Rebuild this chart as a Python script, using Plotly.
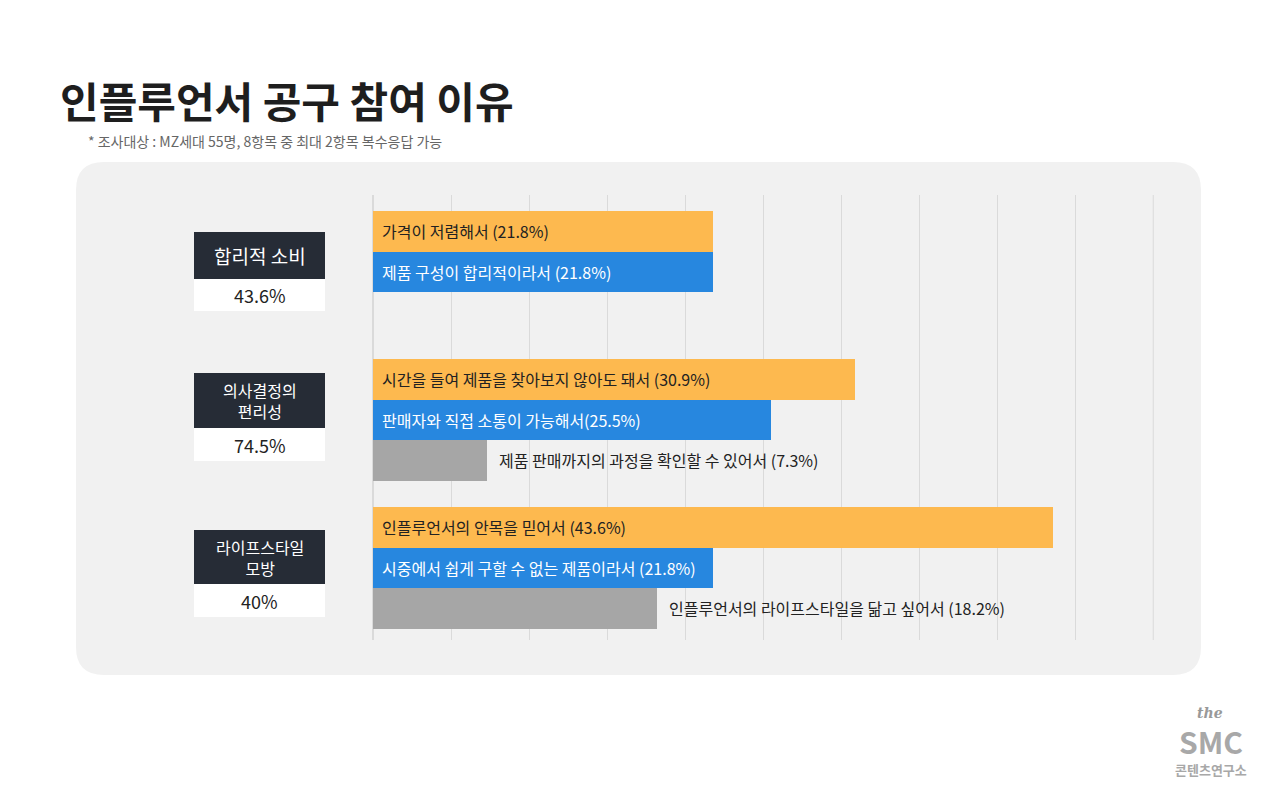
import plotly.graph_objects as go

# 인플루언서 공구 참여 이유 (MZ세대 55명, 복수응답)
groups = ["합리적 소비", "의사결정의<br>편리성", "라이프스타일<br>모방"]
group_totals = ["43.6%", "74.5%", "40%"]
reasons = [
    ["가격이 저렴해서 (21.8%)", "제품 구성이 합리적이라서 (21.8%)"],
    ["시간을 들여 제품을 찾아보지 않아도 돼서 (30.9%)", "판매자와 직접 소통이 가능해서(25.5%)",
     "제품 판매까지의 과정을 확인할 수 있어서 (7.3%)"],
    ["인플루언서의 안목을 믿어서 (43.6%)", "시중에서 쉽게 구할 수 없는 제품이라서 (21.8%)",
     "인플루언서의 라이프스타일을 닮고 싶어서 (18.2%)"],
]
values = [[21.8, 21.8], [30.9, 25.5, 7.3], [43.6, 21.8, 18.2]]
colors = ["#FDB94F", "#2787DF", "#A6A6A6"]

W, H = 1280, 793
OFF = 8  # page margin of the html body
def py(p):  # pixel -> paper y
    return 1 - (p - OFF) / H
def px(p):
    return (p - OFF) / W

group_top = [211, 359, 507]
bar_h = 40.5

fig = go.Figure()
annotations = []
for g, (labels, vals) in enumerate(zip(reasons, values)):
    ys = [group_top[g] + bar_h * (i + 0.5) for i in range(len(vals))]
    fig.add_trace(go.Bar(
        x=vals, y=ys, orientation="h", width=bar_h,
        marker=dict(color=colors[:len(vals)], line=dict(width=0)),
        hoverinfo="skip", showlegend=False,
    ))
    for i, (lab, v) in enumerate(zip(labels, vals)):
        if i == 2:
            annotations.append(dict(x=v, y=ys[i], text=lab, xref="x", yref="y", showarrow=False,
                                    xanchor="left", yanchor="middle", xshift=10,
                                    font=dict(size=16, color="#222")))
        else:
            annotations.append(dict(x=0, y=ys[i], text=lab, xref="x", yref="y", showarrow=False,
                                    xanchor="left", yanchor="middle", xshift=7,
                                    font=dict(size=16, color="#222" if i == 0 else "white")))

# rounded background panel
x0, x1, y0, y1, r = px(76), px(1201), py(675), py(162), 28
rx, ry = r / W, r / H
panel = (f"M {x0+rx},{y0} L {x1-rx},{y0} Q {x1},{y0} {x1},{y0+ry} L {x1},{y1-ry} Q {x1},{y1} {x1-rx},{y1} "
         f"L {x0+rx},{y1} Q {x0},{y1} {x0},{y1-ry} L {x0},{y0+ry} Q {x0},{y0} {x0+rx},{y0} Z")
shapes = [dict(type="path", xref="paper", yref="paper", path=panel,
               fillcolor="#F1F1F1", line=dict(width=0), layer="below"),
          # closing gridline at 50%
          dict(type="line", xref="x", yref="paper", x0=50, x1=50, y0=py(640), y1=py(195),
               line=dict(color="#DADADA", width=1), layer="below")]
boxes = [(232, 279, 311), (373, 428, 461), (530, 584, 617)]
for g, (t, m, b) in enumerate(boxes):
    shapes.append(dict(type="rect", xref="paper", yref="paper", x0=px(194), x1=px(325), y0=py(m), y1=py(t),
                       fillcolor="#262C36", line=dict(width=0)))
    shapes.append(dict(type="rect", xref="paper", yref="paper", x0=px(194), x1=px(325), y0=py(b), y1=py(m),
                       fillcolor="white", line=dict(width=0)))
    annotations.append(dict(x=px(259.5), y=py((t + m) / 2), xref="paper", yref="paper", text=groups[g],
                            showarrow=False, xanchor="center", yanchor="middle",
                            font=dict(size=19 if g == 0 else 16, color="white")))
    annotations.append(dict(x=px(259.5), y=py((m + b) / 2), xref="paper", yref="paper", text=group_totals[g],
                            showarrow=False, xanchor="center", yanchor="middle",
                            font=dict(size=18, color="#222")))

annotations += [
    dict(x=px(58), y=py(100), xref="paper", yref="paper", text="<b>인플루언서 공구 참여 이유</b>",
         showarrow=False, xanchor="left", yanchor="middle", font=dict(size=42, color="#1E1E1E")),
    dict(x=px(86), y=py(141), xref="paper", yref="paper",
         text="* 조사대상 : MZ세대 55명, 8항목 중 최대 2항목 복수응답 가능",
         showarrow=False, xanchor="left", yanchor="middle", font=dict(size=14, color="#666")),
    dict(x=px(1210), y=py(713), xref="paper", yref="paper", text="<i><b>the</b></i>",
         showarrow=False, xanchor="center", yanchor="middle",
         font=dict(size=14, color="#999", family="DejaVu Serif")),
    dict(x=px(1211), y=py(741), xref="paper", yref="paper", text="<b>SMC</b>",
         showarrow=False, xanchor="center", yanchor="middle", font=dict(size=30, color="#A8A8A8")),
    dict(x=px(1211), y=py(769), xref="paper", yref="paper", text="<b>콘텐츠연구소</b>",
         showarrow=False, xanchor="center", yanchor="middle", font=dict(size=13, color="#A8A8A8")),
]

fig.update_layout(
    width=W, height=H, margin=dict(l=0, r=0, t=0, b=0),
    paper_bgcolor="white", plot_bgcolor="rgba(0,0,0,0)",
    font=dict(family="Noto Sans CJK KR"),
    barmode="overlay", bargap=0,
    xaxis=dict(domain=[px(373), px(1154)], range=[0, 50.05], dtick=5, showticklabels=False,
               showgrid=True, gridcolor="#DADADA", gridwidth=1, zeroline=True, zerolinecolor="#DADADA"),
    yaxis=dict(domain=[py(640), py(195)], range=[640, 195], showticklabels=False,
               showgrid=False, zeroline=False),
    shapes=shapes, annotations=annotations,
)
fig.write_html("out.html")
